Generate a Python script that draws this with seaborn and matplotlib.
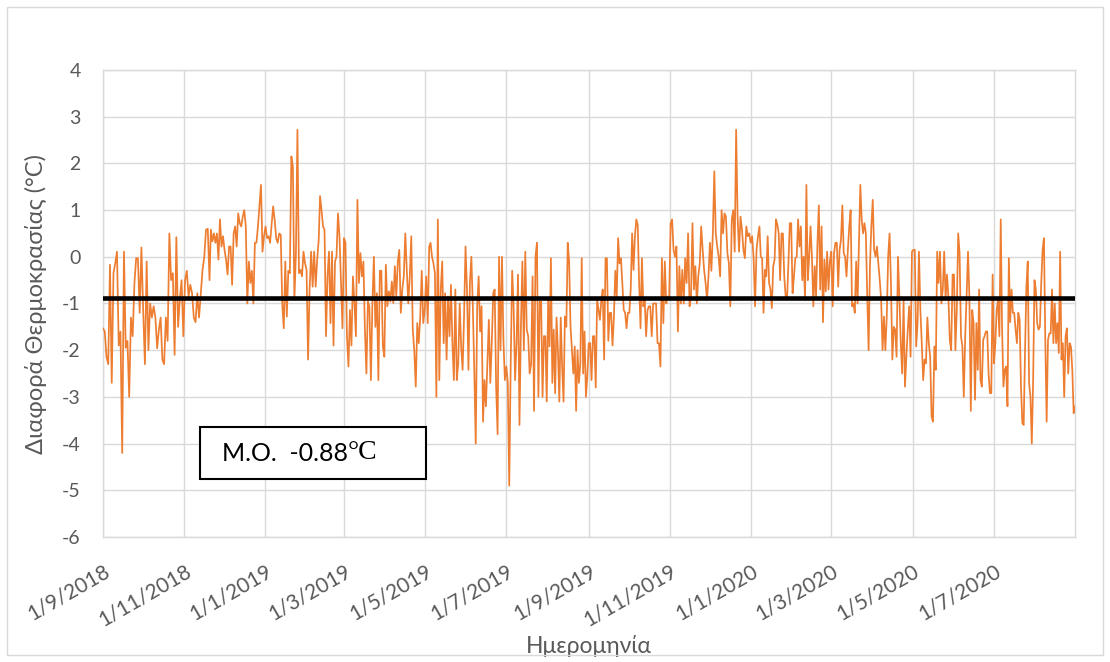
import numpy as np
import pandas as pd
import matplotlib
matplotlib.use("Agg")
import matplotlib.pyplot as plt
from matplotlib.patches import Rectangle
import seaborn as sns

# ---------------- data ----------------
SEG_BOUNDS = [
    ("2018-09-01", "2018-11-20"),
    ("2018-11-21", "2019-02-10"),
    ("2019-02-11", "2019-05-04"),
    ("2019-05-05", "2019-07-25"),
    ("2019-07-26", "2019-10-16"),
    ("2019-10-17", "2020-01-07"),
    ("2020-01-08", "2020-03-29"),
    ("2020-03-30", "2020-06-19"),
    ("2020-06-20", "2020-08-31"),
]

diff_2018_autumn = [
    -1.53, -1.6, -2.14, -2.3, -0.17, -2.7, -0.35, -0.14, 0.11, -1.9, -1.6, -4.2,
    0.11, -1.95, -1.8, -3.0, -1.3, -1.7, -0.56, -0.03, -0.03, -1.2, 0.2, -1.14,
    -2.3, -0.1, -2.0, -1.0, -1.3, -1.06, -1.3, -1.96, -1.56, -1.3, -2.2, -2.3,
    -1.3, -1.8, 0.5, -0.5, -0.35, -2.1, 0.42, -1.5, -0.9, -0.5, -1.7, -0.5, -0.3,
    -0.85, -0.6, -0.78, -1.3, -1.4, -0.78, -1.3, -0.78, -0.28, 0.0, 0.58, 0.6, -0.5,
]
diff_2018_winter = [
    0.58, 0.33, 0.5, 0.3, 0.5, -0.06, 0.8, 0.22, 0.44, 0.15, -0.06, -0.38, 0.22,
    0.22, -0.6, 0.5, 0.65, 0.22, 0.93, 0.72, 0.65, 0.86, 1.0, 0.65, -1.0, -0.1,
    -0.56, -0.3, -1.0, 0.3, 0.3, 0.65, 1.08, 1.54, 0.11, 0.44, 0.65, 0.4, 0.44,
    0.3, 0.69, 1.08, 0.8, 0.4, 0.3, 0.5, 0.47, -1.0, -1.53, -0.1, -1.28, -0.3,
    -0.35, 2.15, 1.93, -0.92, 0.08, 2.72, -0.35, -0.28, -0.42, 0.11, -0.14, -0.28,
    -2.2, -0.7, 0.11, -0.64, 0.11, -0.64, -0.06, 0.36,
]
diff_2019_spring = [
    1.3, 1.0, 0.65, 0.58, -1.7, -0.42, 0.11, -1.42, 0.11, -1.9, -0.1, 0.0, 0.93,
    0.44, -0.56, -1.53, 0.4, 0.3, -1.7, -2.35, -1.14, -1.9, -0.42, -1.0, -1.7,
    1.22, -0.56, 0.08, -0.42, -0.1, -1.56, -2.5, -0.96, -1.06, -2.64, -1.0, 0.0,
    -1.5, -0.78, -2.64, -0.3, -0.3, -1.92, -2.14, -0.17, -1.06, -0.74, -0.96,
    -0.53, -0.99, -0.2, -0.85, -0.1, 0.15, -1.2, -0.7, -0.42, 0.5, -0.28, -1.0,
    -0.42, 0.44, -1.56, -2.0, -2.78, -1.42, -1.85, -1.28, -0.3, -1.42, -1.14,
    -0.42, -1.42, 0.22,
]
diff_2019_summer = [
    0.3, 0.0, -0.14, -0.35, -3.0, 0.8, -2.64, -0.7, -0.1, -1.85, -0.78, -2.2,
    -0.85, -1.7, -0.6, -1.85, -2.64, -0.7, -2.64, -2.28, -1.0, -1.92, -2.42,
    -1.28, 0.22, -0.7, -2.42, -0.56, 0.0, -1.06, -2.42, -4.0, -1.06, -0.42, -1.6,
    -1.06, -3.53, -2.64, -3.2, -2.28, -1.35, -2.7, -1.85, -0.78, -0.7, -2.78,
    -3.8, 0.0, -2.0, 0.0, -1.78, -2.64, -2.35, -2.7, -4.9, -2.28, -0.3, -1.06,
    -2.64, -1.85, -0.38, -3.6, -1.5, -0.1, -2.0, 0.11, -1.56, -1.7, -2.5, -2.3,
    -0.42, -3.3, 0.0, 0.3, -3.0,
]
diff_2019_lsummer = [
    -0.96, -0.96, -3.0, -1.7, -1.7, -3.1, -0.92, -1.92, -0.03, -2.7, -1.56, -2.92,
    -1.3, -2.0, -3.1, -1.3, -2.35, -3.1, -1.28, -1.5, 0.3, -0.1, -1.5, -2.0, -2.5,
    -1.92, -3.3, -2.0, -2.7, -2.28, -0.03, -2.5, -1.6, -3.0, -2.56, -1.85, -1.85,
    -2.64, -1.7, -1.7, -2.8, -0.92, -1.14, -1.35, -0.92, -0.7, -2.2, -0.03, -0.03,
    -1.8, -1.2, -1.2, -1.9, -1.28, -0.3, -0.85, 0.4, -0.14, -0.03, -0.56, -1.14,
    -1.2, -1.53, -1.2, -1.2, -0.7, 0.5, -0.28, 0.44, 0.8, 0.69, -0.56, -1.53,
    -0.03, -1.06, -0.92, -1.7, -1.14, -1.06,
]
diff_2019_autumn = [
    -1.06, -1.7, -1.0, -1.0, -1.0, -1.85, -1.85, -2.35, -0.03, -1.42, -0.1, -1.0,
    -0.85, -0.85, 0.72, 0.8, 0.15, 0.0, 0.22, -1.6, -0.2, -1.0, -0.28, -1.0,
    -0.03, -0.56, 0.5, -1.06, -0.85, 0.72, -0.7, -0.2, -1.0, -0.42, -0.14, 0.65,
    0.15, -0.28, -0.56, -0.92, -0.42, 0.3, -0.3, 0.5, 1.83, 0.5, 0.22, 0.0, -0.42,
    1.0, 0.5, 0.93, 0.86, 0.08, -0.14, -1.06, 0.8, 1.0, 0.11, 2.72, 0.86, 0.11,
    0.86, 0.58, 0.15, -0.03, 0.65, 0.44, 0.5, 0.3, 0.44, -0.03, -1.06, 0.15, 0.44,
    0.65,
]
diff_2020_winter = [
    0.0, -0.03, -1.2, -0.28, -0.42, 0.44, -0.56, -0.7, -1.1, -0.2, -0.06, 0.8,
    0.69, 0.5, -0.5, 0.5, 0.5, -0.42, -0.85, -0.92, -0.14, 0.72, 0.72, -0.78,
    -0.42, -0.03, 0.0, 0.8, 0.22, 0.65, -0.5, 0.0, -0.92, 1.54, -0.5, 0.0, 0.65,
    0.0, -1.06, -0.2, -0.85, 0.3, 1.1, -0.7, 0.65, -1.4, -0.06, -0.74, 0.11, -0.7,
    -0.1, 0.11, -1.06, 0.08, 0.3, 0.3, -0.64, 0.15, 0.36, 1.1, 0.08, 0.0, -0.42,
    0.15, 0.65, 1.0, -1.06, -1.0, -1.2, -0.1, -1.0, 0.3, 1.54, 0.8, 0.5, 0.72,
    0.5, -0.85, -2.0,
]
diff_2020_spring = [
    -0.2, 0.65, 1.22, 0.15, 0.0, 0.22, -0.14, -0.5, -0.92, -2.0, -1.28, -2.0,
    -1.28, 0.0, 0.5, -0.56, -2.2, -1.5, -1.56, -2.14, 0.0, -0.85, -1.85, -2.5,
    -0.92, -2.78, -2.14, -1.56, -1.06, -2.14, 0.11, 0.15, 0.15, -1.92, -1.42,
    0.11, -1.14, -1.85, -2.64, -2.2, -2.28, -1.3, -1.85, -2.14, -3.42, -3.53,
    -1.92, -2.42, 0.11, -0.56, 0.11, -1.0, -0.7, 0.11, -0.92, -0.38, -0.85, -1.78,
    -2.0, -0.38, -0.38, -2.0, -1.14, 0.5, 0.08, -1.7, -1.92, -3.0, -1.7, -0.85,
    0.11, -0.85, -3.3, -1.14, -1.42, -3.06, -1.42, -2.42,
]
diff_2020_summer = [
    -0.7, -2.64, -2.78, -1.78, -1.7, -1.6, -1.6, -2.5, -2.92, -2.92, -0.38, -2.28,
    -1.85, -1.14, -0.92, -1.7, 0.8, -1.56, -2.78, -2.42, -2.35, -3.2, -0.03, -1.4,
    -0.7, -1.2, -1.2, -1.56, -1.85, -1.2, -1.35, -2.78, -3.56, -3.6, -2.0, -0.64,
    -0.1, -2.7, -3.0, -4.0, -2.64, -0.5, -0.7, -1.42, -1.56, -1.5, -0.56, 0.15,
    0.4, -1.78, -3.53, -1.78, -1.64, -1.64, -0.7, -1.85, -1.0, -1.85, -1.42,
    -2.06, 0.11, -2.2, -1.85, -3.0, -1.7, -1.53, -2.5, -1.85, -1.92, -2.42, -3.35,
    -3.2,
]
SEGMENTS = [
    diff_2018_autumn, diff_2018_winter, diff_2019_spring, diff_2019_summer,
    diff_2019_lsummer, diff_2019_autumn, diff_2020_winter, diff_2020_spring,
    diff_2020_summer,
]

MEAN_DIFF = -0.88
Y_TICKS = [4, 3, 2, 1, 0, -1, -2, -3, -4, -5, -6]
X_TICKS = ["2018-09-01", "2018-11-01", "2019-01-01", "2019-03-01", "2019-05-01",
           "2019-07-01", "2019-09-01", "2019-11-01", "2020-01-01", "2020-03-01",
           "2020-05-01", "2020-07-01"]
X_TICK_LABELS = ["1/9/2018", "1/11/2018", "1/1/2019", "1/3/2019", "1/5/2019",
                 "1/7/2019", "1/9/2019", "1/11/2019", "1/1/2020", "1/3/2020",
                 "1/5/2020", "1/7/2020"]
X_LIMITS = ("2018-09-01", "2020-08-31")
Y_LABEL = "Διαφορά Θερμοκρασίας (°C)"
X_LABEL = "Ημερομηνία"
BOX_LABEL = "M.O.  -0.88"
BOX_UNIT = "°C"

# ---------------- build table ----------------
frames = []
for (start, end), vals in zip(SEG_BOUNDS, SEGMENTS):
    frames.append(pd.DataFrame({
        "date": pd.date_range(start, end, periods=len(vals)),
        "diff": vals,
    }))
df = pd.concat(frames, ignore_index=True)

# ---------------- style ----------------
sns.set_theme(style="white")
plt.rcParams["font.family"] = ["Lato", "Noto Sans", "DejaVu Sans"]

GRID = "#D9D9D9"
TXT = "#595959"
ORANGE = "#ED7D31"

W, H = 1110, 662
fig = plt.figure(figsize=(W / 100, H / 100), dpi=100)
fig.patch.set_facecolor("white")
ax = fig.add_axes([103 / W, 1 - 537 / H, (1075 - 103) / W, (537 - 70) / H])

sns.lineplot(data=df, x="date", y="diff", ax=ax, color=ORANGE,
             linewidth=1.25, zorder=3)
ax.axhline(MEAN_DIFF, color="black", linewidth=3.3, zorder=4)

ax.set_ylim(-6, 4)
ax.set_xlim(pd.Timestamp(X_LIMITS[0]), pd.Timestamp(X_LIMITS[1]))
ax.set_yticks(Y_TICKS)
ax.set_yticklabels([str(v) for v in Y_TICKS])
ax.set_xticks(pd.to_datetime(X_TICKS))
ax.set_xticklabels(X_TICK_LABELS)

ax.grid(True, color=GRID, linewidth=1.0)
ax.set_axisbelow(True)
for sp in ax.spines.values():
    sp.set_color(GRID)
    sp.set_linewidth(1.0)

ax.tick_params(axis="y", length=0, pad=16, labelsize=14, labelcolor=TXT)
ax.tick_params(axis="x", length=0, pad=17.5, labelsize=15, labelcolor=TXT)
plt.setp(ax.get_xticklabels(), rotation=30, ha="right", va="top",
         rotation_mode="anchor")

ax.set_xlabel(X_LABEL, fontsize=16.5, color=TXT)
ax.set_ylabel(Y_LABEL, fontsize=17, color=TXT)
ax.xaxis.set_label_coords(0.5, -0.21)
ax.yaxis.set_label_coords(-0.058, 0.5)

# annotation box
ax.add_patch(Rectangle((0.0998, 0.1242), 0.2325, 0.1113, transform=ax.transAxes,
                       facecolor="white", edgecolor="black", linewidth=1.5,
                       zorder=5))
t1 = ax.text(0.1224, 0.178, BOX_LABEL, transform=ax.transAxes, ha="left",
             va="center", fontsize=18, color="black", zorder=6)
ax.annotate(BOX_UNIT, xy=(1, 0), xycoords=t1, ha="left", va="bottom",
            fontsize=20, color="black", zorder=6,
            family=["Liberation Serif", "DejaVu Serif"])

# chart-area frame
fig.patches.append(Rectangle((7 / W, 7 / H), (W - 14) / W, (H - 14) / H,
                             transform=fig.transFigure, fill=False,
                             edgecolor=GRID, linewidth=1.0))

fig.savefig("out.png", dpi=100)
